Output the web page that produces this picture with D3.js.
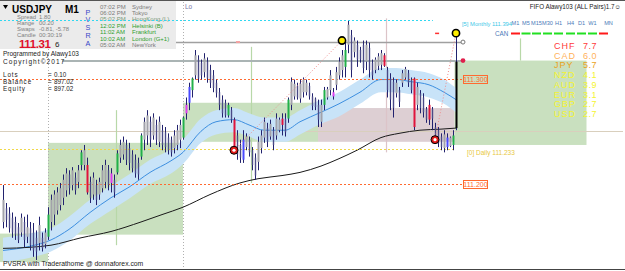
<!DOCTYPE html>
<html><head><meta charset="utf-8">
<script src="https://cdn.jsdelivr.net/npm/d3@7"></script>
<style>
html,body{margin:0;padding:0;background:#fff;overflow:hidden}
svg{display:block}
text{font-family:Arial,"Liberation Sans",sans-serif}
</style></head><body>
<svg id="c" width="625" height="271"></svg>
<script>
// ---------- DATA ----------
const symbol = "USDJPY", timeframe = "M1";
const bidPrice = "111.31", bidPip = "6";
const infoLabels = ["Spread","Range","Swaps","Candle"];
const infoValues = ["1.80","00.20","-0.81, -5.78","00:30:19"];
const sessionTimes = ["07:02 PM","06:02 PM","05:02 PM","12:02 PM","11:02 AM","10:02 AM","05:02 AM"];
const sessionCities = ["Sydney","Tokyo","HongKong (L)","Helsinki (B)","Frankfurt","London (G+1)","NewYork"];
const sessionOpen = [0,0,1,2,2,2,0];
const acctLabels = ["Lots","Balance","Equity"];
const acctValues = ["0.10","897.02","897.02"];
const currencies = ["CHF","CAD","JPY","NZD","AUD","EUR","GBP","USD"];
const strength = [7.7,6.0,5.7,4.1,3.9,3.1,2.7,2.7];
const tfLabels = ["M1","M5","M15","M30","H1","H4","D1","W1","MN"];
const tfSignal = [-1,1,1,1,1,1,1,1,-1];

// bars: high / low / body high / body low, type n=normal g=green r=red b=blue m=magenta
const barHigh = [
111.199,111.182,111.178,111.173,111.169,111.163,111.172,111.169,111.171,111.164,111.163,111.156,111.169,111.154,111.158,111.178,
111.190,111.194,111.197,111.201,111.209,111.215,111.213,111.216,111.211,111.218,111.232,111.237,111.225,111.207,111.211,
111.204,111.206,111.218,111.223,111.218,111.215,111.209,111.232,111.242,111.245,111.242,111.239,111.232,111.228,111.225,
111.248,111.263,111.270,111.264,111.267,111.261,111.264,111.256,111.254,111.248,111.245,111.251,111.256,111.261,111.264,
111.282,111.296,111.301,111.327,111.322,111.318,111.324,111.320,111.313,111.308,111.299,111.291,111.284,111.280,111.277,
111.273,111.263,111.251,111.242,111.251,111.248,111.245,111.235,111.229,111.245,111.251,111.263,111.258,111.261,111.254,
111.267,111.263,111.267,111.267,111.282,111.301,111.299,111.296,111.299,111.301,111.299,111.296,111.286,111.282,111.280,
111.280,111.292,111.292,111.308,111.291,111.311,111.320,111.327,111.336,111.355,111.346,111.339,111.336,111.330,111.336,
111.336,111.334,111.318,111.320,111.324,111.327,111.324,111.311,111.305,111.301,111.299,111.292,111.308,111.311,111.308,
111.301,111.301,111.296,111.289,111.286,111.273,111.280,111.273,111.258,111.254,111.248,111.251,111.248,111.245,111.251,111.343];
const barLow = [
111.158,111.159,111.154,111.149,111.147,111.144,111.150,111.140,111.144,111.137,111.131,111.128,111.137,111.136,111.139,111.147,
111.156,111.161,111.171,111.175,111.180,111.188,111.190,111.194,111.190,111.196,111.213,111.213,111.190,111.182,111.185,
111.180,111.185,111.192,111.196,111.194,111.192,111.187,111.209,111.220,111.223,111.218,111.213,111.211,111.206,111.204,
111.223,111.232,111.237,111.235,111.242,111.237,111.235,111.232,111.230,111.228,111.226,111.229,111.232,111.234,111.242,
111.261,111.270,111.282,111.299,111.296,111.299,111.301,111.296,111.291,111.287,111.282,111.270,111.263,111.263,111.263,
111.258,111.232,111.223,111.220,111.220,111.232,111.226,111.213,111.204,111.213,111.229,111.239,111.235,111.242,111.232,
111.242,111.249,111.246,111.245,111.258,111.270,111.280,111.280,111.277,111.282,111.284,111.280,111.270,111.270,111.254,
111.254,111.270,111.280,111.284,111.280,111.289,111.299,111.301,111.301,111.324,111.301,111.320,111.311,111.315,111.305,
111.308,111.301,111.299,111.305,111.308,111.308,111.311,111.282,111.270,111.263,111.282,111.273,111.292,111.299,111.292,
111.286,111.251,111.270,111.267,111.263,111.258,111.256,111.251,111.239,111.235,111.232,111.230,111.232,111.235,111.232,111.251];
const bodyHigh = [
111.185,111.177,111.172,111.168,111.164,111.159,111.168,111.164,111.159,111.158,111.154,111.149,111.161,111.149,111.154,111.171,
111.185,111.190,111.192,111.196,111.204,111.210,111.209,111.213,111.206,111.213,111.230,111.232,111.218,111.202,111.206,
111.199,111.202,111.213,111.218,111.213,111.210,111.204,111.229,111.237,111.240,111.237,111.234,111.228,111.223,111.220,
111.246,111.259,111.265,111.259,111.263,111.256,111.259,111.251,111.249,111.244,111.242,111.246,111.251,111.256,111.263,
111.275,111.292,111.300,111.322,111.318,111.315,111.319,111.316,111.308,111.303,111.296,111.287,111.280,111.277,111.275,
111.270,111.261,111.246,111.237,111.242,111.245,111.242,111.232,111.225,111.240,111.246,111.259,111.253,111.257,111.251,
111.262,111.261,111.262,111.262,111.280,111.297,111.295,111.293,111.295,111.299,111.296,111.293,111.283,111.281,111.275,
111.275,111.289,111.290,111.303,111.287,111.306,111.316,111.322,111.327,111.351,111.341,111.336,111.332,111.327,111.332,
111.332,111.329,111.315,111.318,111.321,111.324,111.322,111.308,111.300,111.297,111.296,111.289,111.305,111.309,111.305,
111.299,111.300,111.292,111.286,111.282,111.271,111.275,111.271,111.254,111.251,111.245,111.247,111.244,111.244,111.246,111.316];
const bodyLow = [
111.164,111.166,111.158,111.154,111.152,111.147,111.154,111.147,111.150,111.142,111.137,111.136,111.144,111.139,111.143,111.150,
111.164,111.171,111.175,111.180,111.187,111.194,111.196,111.199,111.194,111.202,111.218,111.218,111.192,111.187,111.190,
111.185,111.190,111.196,111.202,111.199,111.201,111.192,111.211,111.225,111.228,111.223,111.220,111.215,111.210,111.209,
111.226,111.242,111.246,111.242,111.246,111.242,111.240,111.237,111.235,111.232,111.230,111.234,111.237,111.242,111.244,
111.267,111.277,111.289,111.303,111.300,111.303,111.306,111.300,111.296,111.291,111.286,111.275,111.267,111.265,111.265,
111.261,111.234,111.228,111.225,111.223,111.235,111.230,111.218,111.208,111.221,111.234,111.244,111.240,111.245,111.237,
111.246,111.251,111.256,111.249,111.262,111.275,111.283,111.282,111.281,111.287,111.287,111.283,111.274,111.273,111.261,
111.259,111.275,111.282,111.289,111.283,111.294,111.303,111.308,111.311,111.332,111.308,111.325,111.318,111.318,111.310,
111.316,111.308,111.303,111.308,111.312,111.313,111.312,111.289,111.280,111.272,111.286,111.278,111.296,111.301,111.296,
111.289,111.254,111.275,111.272,111.268,111.261,111.261,111.262,111.242,111.239,111.235,111.234,111.235,111.236,111.237,111.253];
const barType =
"nnnnnnnnnnnnnnng"+"nnnnnnnnnngnrnn"+"nnnnnmngnnnnnnn"+"gnnnnnnnnnnnnng"+
"mbgnnnnnnnnnnng"+"nrnnbnnnnnnnnnn"+"nnrngnnnnnnnnnn"+"ngnnmnnngnnnnnn"+
"nnnnnnrnnnnnnnn"+"nrnnnnrnnnnnbng";

// moving-average envelope (sampled)
const maIdx = [0,9,16,22,29,36,42,49,56,60,66,71,77,82,87,94,99,106,112,119,126,131,136,142,147,151];
const maMid = [111.137,111.141,111.147,111.157,111.173,111.187,111.197,111.211,111.222,111.230,111.250,111.259,111.261,111.256,111.251,111.251,111.259,111.268,111.276,111.287,111.299,111.299,111.297,111.294,111.287,111.280];
const maUp  = [111.149,111.153,111.158,111.169,111.185,111.198,111.209,111.223,111.233,111.242,111.262,111.270,111.272,111.267,111.263,111.263,111.270,111.280,111.287,111.299,111.310,111.310,111.308,111.305,111.299,111.291];
const maLo  = [111.126,111.130,111.136,111.146,111.162,111.175,111.186,111.200,111.210,111.219,111.239,111.247,111.249,111.245,111.240,111.240,111.247,111.257,111.264,111.276,111.287,111.287,111.285,111.282,111.276,111.268];
// long moving average
const slowIdx = [0,9,16,26,36,46,53,60,69,79,85,93,99,106,112,118,126,132,139,146,151];
const slowMa  = [111.139,111.140,111.142,111.149,111.155,111.164,111.171,111.178,111.190,111.201,111.205,111.208,111.211,111.217,111.224,111.232,111.244,111.248,111.251,111.252,111.253];

// session boxes: start index, end index, top, bottom
const boxStart = [-1,15,60,105,150.5];
const boxEnd   = [15,60,105,150.5,194.5];
const boxTop   = [111.153,111.239,111.277,111.272,111.317];
const boxBot   = [111.126,111.152,111.240,111.240,111.237];
const boxKind  = ["g","g","g","p","g"];
// session range lines
const rangeIdx = [37.67,82.67,127.67,172.33];
const rangeTop = [111.270,111.330,111.357,111.338];
const rangeBot = [111.142,111.201,111.230,111.317];
// day separators
const sepIdx = [15,60];
// price levels
const levelMonthly = 111.355, levelMonthlyText = "[5] Monthly 111.394";
const levelA = 111.335, levelB = 111.317;
const level300 = 111.300, level200 = 111.200;
const levelMid = 111.250;
const levelDaily = 111.233, levelDailyText = "[0] Daily 111.233";
// zigzag swings
const swingIdx = [77,113,144,151];
const swingPrice = [111.232,111.336,111.242,111.343];
const swingHigh = [false,true,false,true];
</script>
<script>
const svg = d3.select('#c');
const x = d3.scaleLinear().domain([0,151]).range([3,456]);
const y = d3.scaleLinear().domain([111.200,111.300]).range([184,78.5]);
const cr = v => Math.round(v)+0.5;
const lineEnd = 153.33;

svg.append('rect').attr('width',625).attr('height',271).attr('fill','#fff');

// boxes
const boxCol = {g:'#c9e0bf', p:'#ddcfd3'};
boxStart.forEach((s,i)=>{
  svg.append('rect').attr('x',Math.max(0,x(s))).attr('y',y(boxTop[i]))
    .attr('width',x(boxEnd[i])-Math.max(0,x(s))).attr('height',y(boxBot[i])-y(boxTop[i]))
    .attr('fill',boxCol[boxKind[i]]);
});
// mid beige level
svg.append('line').attr('x1',0).attr('x2',623).attr('y1',cr(y(levelMid))).attr('y2',cr(y(levelMid)))
  .attr('stroke','#d9cfbd').attr('stroke-width',1);
// range lines
rangeIdx.forEach((r,i)=>{
  svg.append('line').attr('x1',cr(x(r))).attr('x2',cr(x(r))).attr('y1',y(rangeTop[i])).attr('y2',y(rangeBot[i]))
    .attr('stroke', i===2?'#dcc4c8':'#b8d8a8').attr('stroke-width',1.2);
});
// separators
sepIdx.forEach((s,i)=>{
  svg.append('line').attr('x1',cr(x(s))).attr('x2',cr(x(s))).attr('y1',i===0?49:2).attr('y2',269)
    .attr('stroke','#b0b0b0').attr('stroke-dasharray','1,2');
});
// envelope
const area = d3.area().x((d,i)=>x(maIdx[i])).y0((d,i)=>y(maLo[i])).y1((d,i)=>y(maUp[i])).curve(d3.curveMonotoneX);
svg.append('path').attr('d',area(maIdx)).attr('fill','#c8e3f8');
const mid = d3.line().x((d,i)=>x(maIdx[i])).y((d,i)=>y(maMid[i])).curve(d3.curveMonotoneX);
svg.append('path').attr('d',mid(maIdx)).attr('fill','none').attr('stroke','#3d8fe0').attr('stroke-width',1);
const slow = d3.line().x((d,i)=>x(slowIdx[i])).y((d,i)=>y(slowMa[i])).curve(d3.curveMonotoneX);
svg.append('path').attr('d',slow(slowIdx)).attr('fill','none').attr('stroke','#1a1a1a').attr('stroke-width',1);

// gray levels
svg.append('line').attr('x1',0).attr('x2',x(lineEnd)).attr('y1',cr(y(levelA))).attr('y2',cr(y(levelA)))
  .attr('stroke','#a0a0a0').attr('stroke-width',1.5);
svg.append('line').attr('x1',62).attr('x2',x(lineEnd)).attr('y1',Math.round(y(levelB))).attr('y2',Math.round(y(levelB)))
  .attr('stroke','#aab4b4').attr('stroke-width',2);
// orange levels
[level300,level200].forEach(p=>{
  svg.append('line').attr('x1',0).attr('x2',x(lineEnd)).attr('y1',cr(y(p))).attr('y2',cr(y(p)))
    .attr('stroke','#ff6a30').attr('stroke-dasharray','2,2');
});
// daily
svg.append('line').attr('x1',0).attr('x2',x(151)).attr('y1',cr(y(levelDaily))).attr('y2',cr(y(levelDaily)))
  .attr('stroke','#f0d848').attr('stroke-dasharray','2,2');

// bars
const typeCol = {g:'#22b04a', r:'#e0143c', b:'#4a4aff', m:'#e040f0'};
const navy = '#22226e';
barHigh.forEach((h,i)=>{
  const cx = Math.round(x(i));
  svg.append('rect').attr('x',cx).attr('y',y(h)).attr('width',1).attr('height',Math.max(1,y(barLow[i])-y(h))).attr('fill',navy);
  const t = barType[i];
  let col, w = 2;
  if (t!=='n') col = typeCol[t];
  else {
    const m = (h+barLow[i])/2, pm = i>0 ? (barHigh[i-1]+barLow[i-1])/2 : m;
    if (m>=pm) col = '#a2a2aa'; else { col = '#4a4a86'; w = 1.4; }
  }
  svg.append('rect').attr('x',cx-(w-1)/2).attr('y',y(bodyHigh[i])).attr('width',w)
    .attr('height',Math.max(1,y(bodyLow[i])-y(bodyHigh[i]))).attr('fill',col);
});

// zigzag
for (let k=0;k<swingIdx.length;k+=2){
  svg.append('line').attr('x1',x(swingIdx[k])).attr('y1',y(swingPrice[k])).attr('x2',x(swingIdx[k+1])).attr('y2',y(swingPrice[k+1]))
    .attr('stroke','#f08c8c').attr('stroke-dasharray','1,2');
}
swingIdx.forEach((s,i)=>{
  if (swingHigh[i]) {
    svg.append('circle').attr('cx',x(s)).attr('cy',y(swingPrice[i])).attr('r',3.6).attr('fill','#ffee00').attr('stroke','#000').attr('stroke-width',1.6);
  } else {
    svg.append('circle').attr('cx',x(s)).attr('cy',y(swingPrice[i])).attr('r',4).attr('fill','#e01818').attr('stroke','#000').attr('stroke-width',1);
    svg.append('circle').attr('cx',x(s)).attr('cy',y(swingPrice[i])).attr('r',1.6).attr('fill','#fff');
  }
});
// small marks
svg.append('rect').attr('x',x(78)-1).attr('y',y(levelA)-0.5).attr('width',4).attr('height',2).attr('fill','#f4a0a0');
svg.append('rect').attr('x',x(144.7)-2).attr('y',y(swingPrice[3])-0.5).attr('width',4).attr('height',1.5).attr('fill','#ff3030');
svg.append('circle').attr('cx',x(lineEnd)).attr('cy',y(levelA)+0.5).attr('r',2).attr('fill','#fff').attr('stroke','#777');
svg.append('circle').attr('cx',x(lineEnd)).attr('cy',y(levelB)).attr('r',2.4).attr('fill','#e0204c');

// price boxes
[[level300,"111.300"],[level200,"111.200"]].forEach(([p,t])=>{
  const yy = y(p);
  svg.append('rect').attr('x',cr(x(lineEnd))).attr('y',Math.round(yy)-3.5).attr('width',24).attr('height',8)
    .attr('fill','none').attr('stroke','#ff6a30');
  svg.append('text').attr('x',x(lineEnd)+12.5).attr('y',Math.round(yy)+3).attr('text-anchor','middle')
    .attr('font-size',7).attr('fill','#ff6a30').text(t);
});
svg.append('text').attr('x',467).attr('y',y(levelDaily)+6).attr('font-size',6.5).attr('fill','#e8c840').text(levelDailyText);

// info panel
svg.append('rect').attr('x',0).attr('y',0).attr('width',176).attr('height',49).attr('fill','#ebebeb');
svg.append('path').attr('d','M3,5 L8,5 L5.5,9 Z').attr('fill','#000');
svg.append('text').attr('x',12).attr('y',12.5).attr('font-size',10).attr('font-weight','bold').attr('fill','#000').text(symbol);
svg.append('text').attr('x',65).attr('y',12.5).attr('font-size',10).attr('font-weight','bold').attr('fill','#000').text(timeframe);
const infoY=[18.8,24.8,30.8,36.6];
infoLabels.forEach((l,i)=>{
  svg.append('text').attr('x',17).attr('y',infoY[i]).attr('font-size',5.9).attr('fill','#808080').text(l);
  svg.append('text').attr('x',39).attr('y',infoY[i]).attr('font-size',5.9).attr('fill','#808080').text(infoValues[i]);
});
svg.append('text').attr('x',19).attr('y',47.8).attr('font-size',11.5).attr('font-weight','bold').attr('letter-spacing',-0.4).attr('fill','#e0102a').text(bidPrice);
svg.append('text').attr('x',55).attr('y',47.3).attr('font-size',8).attr('fill','#222').text(bidPip);
// vertical PVSRA label
"PVSRA".split("").forEach((c,i)=>svg.append('text').attr('x',88).attr('y',14.5+i*7.9).attr('text-anchor','middle')
  .attr('font-size',7.2).attr('fill','#3848c8').text(c));
sessionTimes.forEach((t,i)=>{
  const yy = 8.5+i*6.4;
  const c = sessionOpen[i]===2 ? '#2ea02e' : (sessionOpen[i]===1 ? '#7a9a7a' : '#7a7a7a');
  svg.append('text').attr('x',100).attr('y',yy).attr('font-size',6).attr('fill',c).text(t);
  svg.append('text').attr('x',132).attr('y',yy).attr('font-size',6).attr('fill',c).text(sessionCities[i]);
});
// cyan monthly level over the panel
svg.append('line').attr('x1',0).attr('x2',x(143.3)).attr('y1',cr(y(levelMonthly))).attr('y2',cr(y(levelMonthly)))
  .attr('stroke','#30d8f0').attr('stroke-dasharray','2,2');
svg.append('text').attr('x',462).attr('y',26).attr('font-size',5.8).attr('fill','#40c8e8').text(levelMonthlyText);

// left texts
svg.append('text').attr('x',3).attr('y',56).attr('font-size',6.5).attr('fill','#222').text('Programmed by Alawy103');
svg.append('text').attr('x',3).attr('y',63.5).attr('font-size',6.5).attr('letter-spacing',1.1).attr('fill','#222').text('Copyright\u00a92017');
acctLabels.forEach((l,i)=>{
  const yy = 77+i*7;
  svg.append('text').attr('x',3).attr('y',yy).attr('font-size',6.3).attr('letter-spacing',0.9).attr('fill','#222').text(l);
  svg.append('text').attr('x',48).attr('y',yy).attr('font-size',6.3).attr('fill','#222').text('=');
  svg.append('text').attr('x',54).attr('y',yy).attr('font-size',6.3).attr('fill','#222').text(acctValues[i]);
});
svg.append('text').attr('x',185).attr('y',9).attr('font-size',6.5).attr('fill','#7878a8').text('Lo');

// top-right
svg.append('text').attr('x',621).attr('y',8.5).attr('text-anchor','end').attr('font-size',6.3).attr('fill','#222').text('FIFO Alawy103 (ALL Pairs)1.7\u263a');
const tfX = [515.5,526,536.5,547.5,558.5,570.5,581.5,592.5,603.5];
tfLabels.forEach((t,i)=>{
  svg.append('text').attr('x',tfX[i]+(i===8?5:0)).attr('y',25).attr('text-anchor','middle').attr('font-size',5.6).attr('fill','#4a7ab8').text(t);
  svg.append('rect').attr('x',tfX[i]-4.5).attr('y',32.5).attr('width',9).attr('height',2)
    .attr('fill',tfSignal[i]>0?'#22e022':'#ff1a1a');
});
svg.append('text').attr('x',495).attr('y',35.5).attr('font-size',6.3).attr('fill','#4a7ab8').text('CAN');

// currency strength
const curCol = ['#ff3a3a','#ffb25a','#eaa21c','#f4f430','#f4f430','#f4f430','#f4f430','#f4f430'];
currencies.forEach((c,i)=>{
  const yy = 49+i*9.7;
  svg.append('text').attr('x',554).attr('y',yy).attr('font-family','"Liberation Mono",monospace').attr('font-size',9).attr('letter-spacing',1).attr('fill',curCol[i]).text(c);
  svg.append('text').attr('x',583).attr('y',yy).attr('font-family','"Liberation Mono",monospace').attr('font-size',9).attr('letter-spacing',0.5).attr('fill',curCol[i]).text(strength[i].toFixed(1));
});

svg.append('text').attr('x',3).attr('y',266).attr('font-size',6.8).attr('fill','#222').text('PVSRA with Traderathome @ donnaforex.com');

// frame
svg.append('line').attr('x1',0).attr('x2',625).attr('y1',0.5).attr('y2',0.5).attr('stroke','#555');
svg.append('line').attr('x1',0).attr('x2',625).attr('y1',269.5).attr('y2',269.5).attr('stroke','#444');
</script>
</body></html>
